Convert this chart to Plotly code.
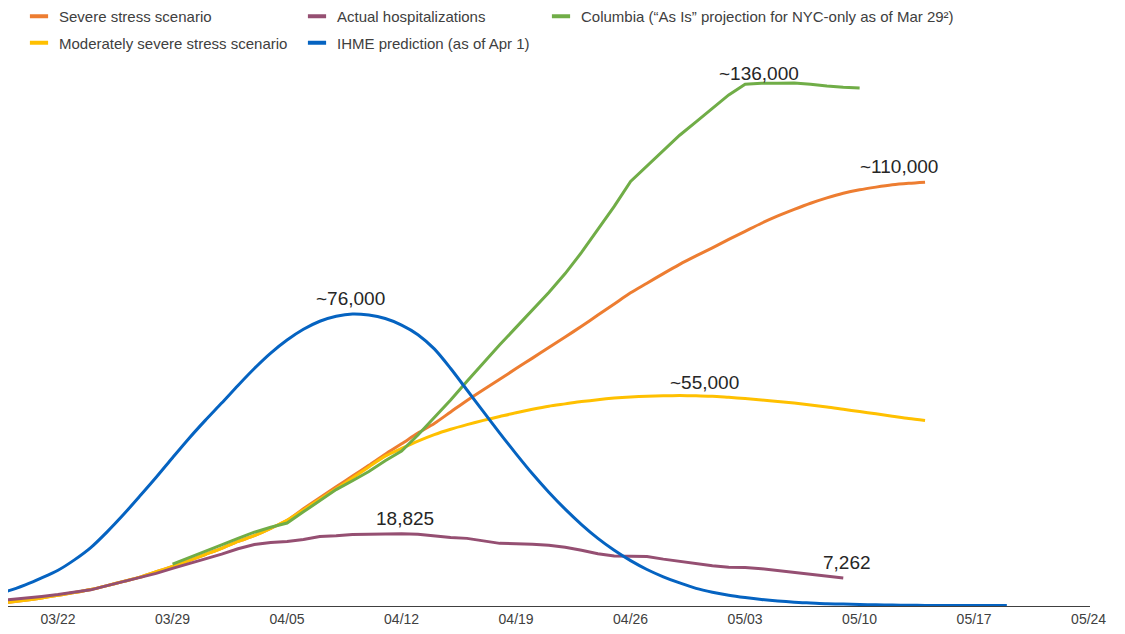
import pandas as pd
import plotly.graph_objects as go

# ---------------- data (values in thousands of patients) ----------------
start_main = "2020-03-18"
start_columbia = "2020-03-29"

severe = [0.6, 1.0, 1.5, 2.1, 2.8, 3.5, 4.3, 5.3, 6.4, 7.5, 8.9, 10.3, 11.8, 13.4, 15.0,
          16.8, 18.3, 20.2, 22.3, 25.3, 28.2, 31.0, 33.8, 36.6, 39.5, 42.2, 45.0, 47.5,
          50.5, 53.5, 56.3, 59.0, 61.8, 64.5, 67.3, 70.0, 72.8, 75.7, 78.6, 81.5, 84.0,
          86.5, 88.9, 91.1, 93.2, 95.4, 97.5, 99.6, 101.5, 103.2, 104.8, 106.2, 107.4,
          108.3, 109.0, 109.6, 110.0, 110.3]
moderate = [0.6, 1.0, 1.5, 2.1, 2.8, 3.5, 4.3, 5.3, 6.4, 7.5, 8.9, 10.3, 11.8, 13.4, 15.0,
            16.8, 18.3, 20.2, 22.3, 25.0, 27.8, 30.5, 33.3, 36.2, 39.0, 41.0, 42.9, 44.6,
            46.0, 47.2, 48.3, 49.3, 50.3, 51.2, 52.0, 52.6, 53.2, 53.7, 54.1, 54.4, 54.6,
            54.7, 54.8, 54.7, 54.6, 54.3, 54.0, 53.6, 53.2, 52.8, 52.3, 51.8, 51.2, 50.6,
            50.0, 49.4, 48.8, 48.3]
actual = [1.2, 1.6, 2.0, 2.5, 3.0, 3.6, 4.2, 5.3, 6.4, 7.4, 8.5, 9.8, 11.0, 12.3, 13.5,
          14.9, 16.0, 16.5, 16.8, 17.3, 18.1, 18.3, 18.6, 18.7, 18.8, 18.825, 18.7, 18.2,
          17.8, 17.6, 17.0, 16.3, 16.2, 16.1, 15.8, 15.3, 14.5, 13.6, 13.0, 13.0, 12.9,
          12.2, 11.6, 11.0, 10.5, 10.1, 10.0, 9.7, 9.2, 8.7, 8.2, 7.7, 7.262]
ihme = [3.0, 4.0, 5.5, 7.3, 9.3, 12.0, 15.2, 19.3, 23.8, 28.6, 33.5, 38.6, 43.6, 48.3,
        52.8, 57.4, 61.8, 65.8, 69.2, 72.0, 74.1, 75.4, 76.0, 75.7, 74.8, 73.1, 70.6, 66.9,
        61.8, 56.2, 50.6, 45.0, 39.6, 34.4, 29.6, 25.2, 21.2, 17.6, 14.5, 11.8, 9.5, 7.6,
        6.0, 4.6, 3.6, 2.8, 2.2, 1.7, 1.3, 1.0, 0.8, 0.6, 0.5, 0.4, 0.3, 0.25, 0.2, 0.15,
        0.12, 0.1, 0.1, 0.1, 0.1]
columbia = [10.9, 12.5, 14.2, 15.9, 17.6, 19.2, 20.5, 21.6, 24.5, 27.5, 30.3, 32.6, 35.0,
            37.8, 40.3, 44.5, 49.0, 53.6, 58.5, 63.3, 68.0, 72.5, 77.0, 81.6, 86.5, 92.0,
            98.0, 104.0, 110.5, 114.5, 118.5, 122.5, 126.0, 129.5, 133.0, 135.8, 136.0,
            136.0, 136.1, 135.8, 135.3, 135.0, 134.8]

tick_dates = ["2020-03-22", "2020-03-29", "2020-04-05", "2020-04-12", "2020-04-19",
              "2020-04-26", "2020-05-03", "2020-05-10", "2020-05-17", "2020-05-24"]
tick_labels = ["03/22", "03/29", "04/05", "04/12", "04/19", "04/26", "05/03", "05/10",
               "05/17", "05/24"]

names = {
    "severe": "Severe stress scenario",
    "moderate": "Moderately severe stress scenario",
    "actual": "Actual hospitalizations",
    "ihme": "IHME prediction (as of Apr 1)",
    "columbia": "Columbia (\u201cAs Is\u201d projection for NYC-only as of Mar 29\u00b2)",
}
colors = {"severe": "#ED7D31", "moderate": "#FFC000", "actual": "#954F72",
          "ihme": "#0563C1", "columbia": "#70AD47"}

# point labels: (series, date, value, text, xshift, yshift)
labels = [
    ("ihme", "2020-04-09", 76.0, "~76,000", -2, 15),
    ("columbia", "2020-05-05", 136.0, "~136,000", -19, 10),
    ("severe", "2020-05-14", 110.3, "~110,000", -26, 16),
    ("moderate", "2020-04-29", 54.8, "~55,000", 25, 13),
    ("actual", "2020-04-12", 18.825, "18,825", 3, 15),
    ("actual", "2020-05-09", 7.262, "7,262", 4, 16),
]

series = {
    "severe": (start_main, severe),
    "moderate": (start_main, moderate),
    "actual": (start_main, actual),
    "columbia": (start_columbia, columbia),
    "ihme": (start_main, ihme),
}

FONT = "Liberation Sans, Arial, sans-serif"
fig = go.Figure()

for key, (start, vals) in series.items():
    fig.add_trace(go.Scatter(
        x=pd.date_range(start, periods=len(vals)), y=vals, mode="lines",
        line=dict(color=colors[key], width=3,
                  shape="linear" if key in ("actual", "columbia") else "spline",
                  smoothing=0.8),
        name=names[key], showlegend=False, legendgroup=key, hoverinfo="skip"))

# legend entries (short thick dash symbol like the original)
legend_layout = [("severe", "legend"), ("moderate", "legend"),
                 ("actual", "legend2"), ("ihme", "legend2"),
                 ("columbia", "legend3")]
for key, lg in legend_layout:
    fig.add_trace(go.Scatter(
        x=[None], y=[None], mode="markers", name=names[key], legend=lg,
        legendgroup=key,
        marker=dict(symbol="line-ew", size=13, color=colors[key],
                    line=dict(width=4, color=colors[key]))))

for key, d, v, txt, xs, ys in labels:
    fig.add_annotation(x=d, y=v, text=txt, showarrow=False, xanchor="center",
                       yanchor="middle", xshift=xs, yshift=ys,
                       font=dict(family=FONT, size=19, color="#262626"))

# figure is placed 8px from the page's top-left corner, so size it 8px smaller
W, H = 1117, 626
T, B, R = 60, 28, 35
plot_h = H - T - B
plot_w = W - R
leg_y = 1 + 68 / plot_h

leg_common = dict(xref="paper", yref="paper", xanchor="left", yanchor="top",
                  orientation="v", traceorder="grouped", tracegroupgap=4,
                  bgcolor="rgba(0,0,0,0)", borderwidth=0, itemwidth=30,
                  font=dict(family=FONT, size=15, color="#404040"))

fig.update_layout(
    width=W, height=H,
    margin=dict(l=0, r=R, t=T, b=B, autoexpand=False),
    paper_bgcolor="white", plot_bgcolor="white",
    font=dict(family=FONT, color="#404040"),
    xaxis=dict(type="date", range=["2020-03-18 22:34", "2020-05-24 02:00"],
               tickvals=tick_dates, ticktext=tick_labels, showgrid=False,
               zeroline=False, showline=True, linecolor="#404040", linewidth=1,
               ticks="", tickangle=0, automargin=False,
               tickfont=dict(family=FONT, size=14, color="#404040")),
    yaxis=dict(range=[0, 140.0], visible=False, showgrid=False, zeroline=False,
               automargin=False),
    legend=dict(x=11 / plot_w, y=leg_y, **leg_common),
    legend2=dict(x=289 / plot_w, y=leg_y, **leg_common),
    legend3=dict(x=533 / plot_w, y=leg_y, **leg_common),
    hovermode=False,
)

fig.write_html("out.html")
